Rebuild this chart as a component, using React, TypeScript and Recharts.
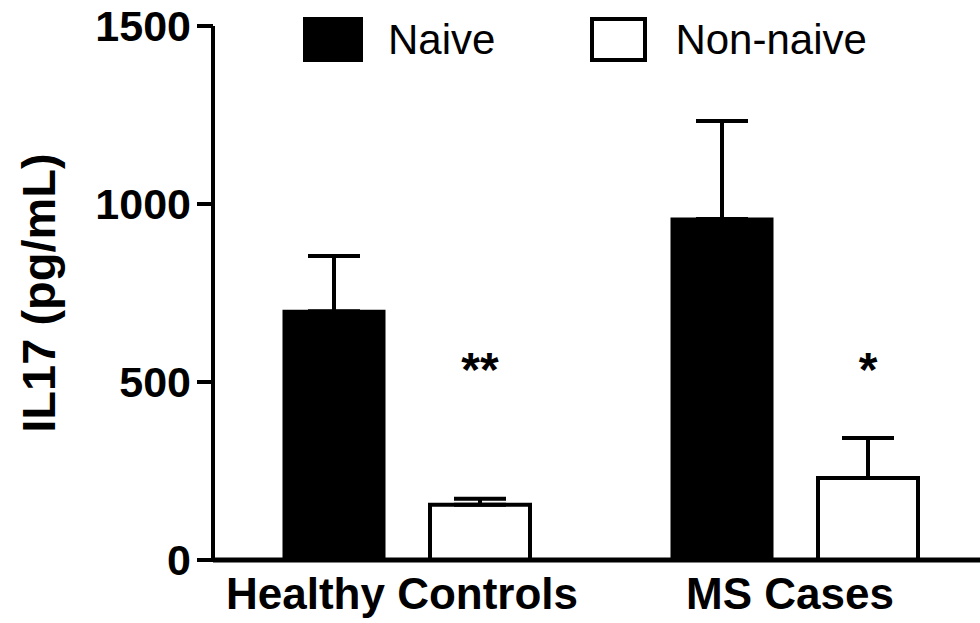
import React from "react";
import { BarChart, Bar, XAxis, YAxis, ErrorBar, LabelList, Legend } from "recharts";

const categories = ["Healthy Controls", "MS Cases"];
const seriesNames = ["Naive", "Non-naive"];
const naiveValues = [699, 958];
const naiveErrors = [155, 275];
const nonNaiveValues = [155, 230];
const nonNaiveErrors = [17, 113];
const significance = ["**", "*"];
const significanceLevel = [555, 555];
const yTicks = [0, 500, 1000, 1500];

const FONT = "'Liberation Sans', Arial, Helvetica, sans-serif";

const data = categories.map((c, i) => ({
  category: c,
  naive: naiveValues[i],
  naiveErr: [0, naiveErrors[i]],
  nonNaive: nonNaiveValues[i],
  nonNaiveErr: [0, nonNaiveErrors[i]],
  sig: significance[i],
}));

const SigLabel = (props: any) => {
  const vb = props.viewBox && props.viewBox.width != null ? props.viewBox : props;
  const x = Number(vb.x);
  const y = Number(vb.y);
  const w = Number(vb.width);
  const h = Number(vb.height);
  const idx = props.index ?? 0;
  const base = y + h;
  const px = h / nonNaiveValues[idx];
  const yc = base - significanceLevel[idx] * px;
  return (
    <text
      x={x + w / 2}
      y={yc + 24}
      textAnchor="middle"
      fontFamily={FONT}
      fontWeight="bold"
      fontSize={48}
      fill="#000"
    >
      {props.value}
    </text>
  );
};

const LegendContent = () => (
  <div style={{ display: "flex", alignItems: "flex-start", paddingLeft: 303, paddingTop: 17, fontFamily: FONT }}>
    <div style={{ display: "flex", alignItems: "flex-start", marginRight: 95 }}>
      <div style={{ width: 60, height: 45, background: "#000", marginRight: 25 }} />
      <span style={{ fontSize: 42, lineHeight: "45px", color: "#000" }}>{seriesNames[0]}</span>
    </div>
    <div style={{ display: "flex", alignItems: "flex-start" }}>
      <div style={{ width: 57, height: 45, background: "#fff", border: "4px solid #000", boxSizing: "border-box", marginRight: 28 }} />
      <span style={{ fontSize: 42, lineHeight: "45px", color: "#000" }}>{seriesNames[1]}</span>
    </div>
  </div>
);

const YLabel = (props: any) => {
  const vb = props.viewBox || { x: 0, y: 26, width: 213, height: 534 };
  const cx = vb.x + 38;
  const cy = vb.y + vb.height / 2;
  return (
    <text
      x={cx}
      y={cy}
      transform={`rotate(-90, ${cx}, ${cy})`}
      textAnchor="middle"
      dy="0.355em"
      fontFamily={FONT}
      fontWeight="bold"
      fontSize={47}
      fill="#000"
    >
      IL17 (pg/mL)
    </text>
  );
};

export default function App() {
  return (
    <div
      style={{
        position: "fixed",
        left: 0,
        top: 0,
        width: 980,
        height: 623,
        overflow: "hidden",
        background: "#fff",
        fontFamily: FONT,
      }}
    >
      <BarChart
        width={1000}
        height={623}
        data={data}
        margin={{ top: 26, right: 11, bottom: 3, left: 0 }}
        barSize={100}
        barGap={46}
      >
        <XAxis
          dataKey="category"
          axisLine={{ stroke: "#000", strokeWidth: 5 }}
          tickLine={false}
          tickSize={0}
          tickMargin={18}
          height={60}
          tick={{ fontSize: 44, fontWeight: "bold", fill: "#000", fontFamily: FONT, dx: -5 }}
        />
        <YAxis
          domain={[0, 1500]}
          ticks={yTicks}
          interval={0}
          width={213}
          axisLine={{ stroke: "#000", strokeWidth: 4 }}
          tickLine={{ stroke: "#000", strokeWidth: 4 }}
          tickSize={16}
          tickMargin={6}
          tick={{ fontSize: 43, fontWeight: "bold", fill: "#000", fontFamily: FONT }}
          label={{ content: YLabel }}
        />
        <Legend
          layout="horizontal"
          verticalAlign="middle"
          align="center"
          wrapperStyle={{ top: 0, left: 0, width: 1000, height: 70 }}
          content={LegendContent}
        />
        <Bar dataKey="naive" name={seriesNames[0]} fill="#000" stroke="#000" strokeWidth={3} isAnimationActive={false}>
          <ErrorBar dataKey="naiveErr" width={26} strokeWidth={4} stroke="#000" direction="y" />
        </Bar>
        <Bar dataKey="nonNaive" name={seriesNames[1]} fill="#fff" stroke="#000" strokeWidth={4} isAnimationActive={false}>
          <ErrorBar dataKey="nonNaiveErr" width={26} strokeWidth={4} stroke="#000" direction="y" />
          <LabelList dataKey="sig" content={SigLabel} />
        </Bar>
      </BarChart>
    </div>
  );
}
